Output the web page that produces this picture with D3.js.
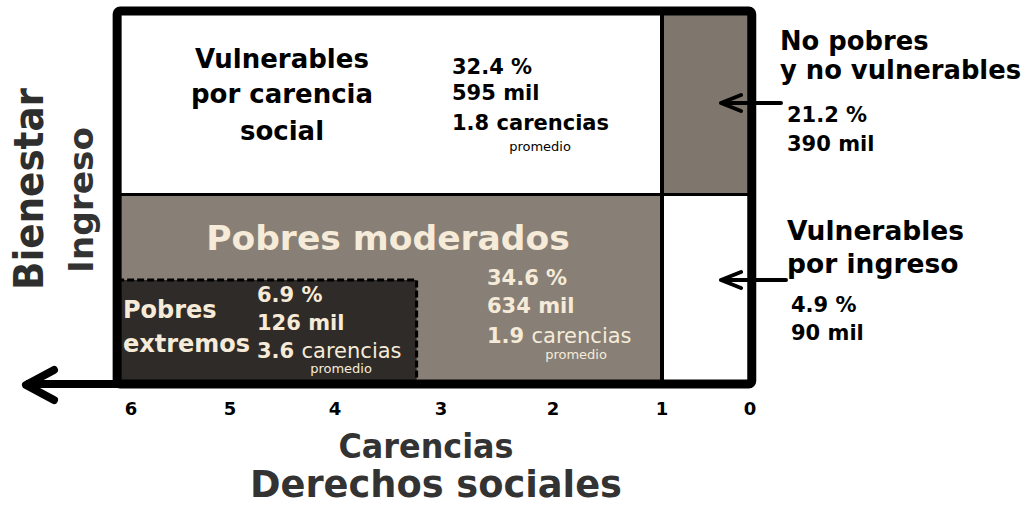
<!DOCTYPE html>
<html>
<head>
<meta charset="utf-8">
<script src="https://cdn.jsdelivr.net/npm/d3@7"></script>
<style>
  body { margin: 0; background: #fff; }
  svg { display: block; font-family: "DejaVu Sans", Verdana, sans-serif; }
</style>
</head>
<body>
<div class="chart"></div>
<script>
// Medición de pobreza
var grupos = ["Vulnerables por carencia social", "No pobres y no vulnerables", "Pobres moderados", "Vulnerables por ingreso", "Pobres extremos"];
var porcentajes = [32.4, 21.2, 34.6, 4.9, 6.9];
var miles = [595, 390, 634, 90, 126];
var carenciasProm = [1.8, null, 1.9, null, 3.6];
// limites de cada zona: carencias (x) y nivel de ingreso (y)
var carX0 = [1, -0.02, 1, -0.02, 3.23];
var carX1 = [6.14, 1, 6.14, 1, 6.14];
var ingY0 = [2, 2, 0, 0, 0];
var ingY1 = [3, 3, 2, 2, 1];
var colores = ["#ffffff", "#7f776e", "#888077", "#ffffff", "#2f2b28"];
var tickVals = [6, 5, 4, 3, 2, 1, 0];

var w = 1033, h = 506;
var crema = "#f6ebd8";

var svg = d3.select(".chart").append("svg")
    .attr("width", w)
    .attr("height", h);

// escalas (el eje de carencias va de derecha a izquierda)
var x = d3.scaleLinear()
    .domain([0, 1, 2, 3, 4, 5, 6])
    .range([750, 662, 553, 441, 335, 230, 131]);
var y = d3.scaleLinear()
    .domain([0, 1, 2, 3])   // base, linea bienestar minimo, linea bienestar, tope
    .range([384, 280, 194.5, 11]);

var zonas = grupos.map(function(g, i) {
    return {g: g, x0: carX0[i], x1: carX1[i], y0: ingY0[i], y1: ingY1[i], c: colores[i]};
});

svg.selectAll("rect.zona")
    .data(zonas)
    .enter()
    .append("rect")
    .attr("class", "zona")
    .attr("x", function(d) { return x(d.x1); })
    .attr("y", function(d) { return y(d.y1); })
    .attr("width", function(d) { return x(d.x0) - x(d.x1); })
    .attr("height", function(d) { return y(d.y0) - y(d.y1); })
    .attr("fill", function(d) { return d.c; });

// borde punteado pobres extremos
var ext = zonas[4];
svg.append("path")
    .attr("d", "M" + x(ext.x1) + "," + y(ext.y1) + "H" + x(ext.x0) + "V" + y(ext.y0))
    .attr("fill", "none")
    .attr("stroke", "#000")
    .attr("stroke-width", 3)
    .attr("stroke-dasharray", "7,3");

// divisiones
svg.append("line")
    .attr("x1", x(1)).attr("x2", x(1))
    .attr("y1", y(3)).attr("y2", y(0))
    .attr("stroke", "#000").attr("stroke-width", 4);
svg.append("line")
    .attr("x1", x(6.14)).attr("x2", x(-0.02))
    .attr("y1", y(2)).attr("y2", y(2))
    .attr("stroke", "#000").attr("stroke-width", 3);

// marco
svg.append("rect")
    .attr("x", x(6.14))
    .attr("y", y(3))
    .attr("width", x(-0.02) - x(6.14))
    .attr("height", y(0) - y(3))
    .attr("rx", 3)
    .attr("fill", "none")
    .attr("stroke", "#000")
    .attr("stroke-width", 9);

// flecha del eje de carencias
svg.append("line")
    .attr("x1", x(-0.02)).attr("x2", 26)
    .attr("y1", y(0)).attr("y2", y(0))
    .attr("stroke", "#000").attr("stroke-width", 8);
svg.append("path")
    .attr("d", "M54,370 L26,385 L54,400")
    .attr("fill", "none")
    .attr("stroke", "#000")
    .attr("stroke-width", 8)
    .attr("stroke-linecap", "round")
    .attr("stroke-linejoin", "round");

// etiquetas del eje
svg.selectAll("text.tick")
    .data(tickVals)
    .enter()
    .append("text")
    .attr("class", "tick")
    .attr("x", function(d) { return x(d); })
    .attr("y", 415)
    .attr("text-anchor", "middle")
    .attr("font-weight", "bold")
    .attr("font-size", 18)
    .text(function(d) { return d; });

svg.append("text")
    .attr("x", 426).attr("y", 458)
    .attr("text-anchor", "middle")
    .attr("font-family", "'Liberation Sans Narrow', 'DejaVu Sans Condensed', sans-serif")
    .attr("font-weight", "bold")
    .attr("font-size", 34)
    .attr("fill", "#333")
    .attr("textLength", 175)
    .attr("lengthAdjust", "spacingAndGlyphs")
    .text("Carencias");
svg.append("text")
    .attr("x", 436).attr("y", 497)
    .attr("text-anchor", "middle")
    .attr("font-family", "'Liberation Sans Narrow', 'DejaVu Sans Condensed', sans-serif")
    .attr("font-weight", "bold")
    .attr("font-size", 38)
    .attr("fill", "#333")
    .attr("textLength", 372)
    .attr("lengthAdjust", "spacingAndGlyphs")
    .text("Derechos sociales");

// eje de ingreso
svg.append("text")
    .attr("transform", "translate(43,189) rotate(-90)")
    .attr("text-anchor", "middle")
    .attr("font-weight", "bold")
    .attr("font-size", 40)
    .attr("fill", "#2e2e2e")
    .attr("textLength", 202)
    .attr("lengthAdjust", "spacingAndGlyphs")
    .text("Bienestar");
svg.append("text")
    .attr("transform", "translate(93,200) rotate(-90)")
    .attr("text-anchor", "middle")
    .attr("font-weight", "bold")
    .attr("font-size", 34)
    .attr("fill", "#333")
    .attr("textLength", 146)
    .attr("lengthAdjust", "spacingAndGlyphs")
    .text("Ingreso");

// helper para bloques de texto
function lineas(xp, ys, textos, size, color, anchor) {
    textos.forEach(function(t, i) {
        svg.append("text")
            .attr("x", xp).attr("y", ys[i])
            .attr("text-anchor", anchor || "start")
            .attr("font-weight", "bold")
            .attr("font-size", size)
            .attr("fill", color)
            .text(t);
    });
}
function carLinea(xp, yp, valor, color, bold) {
    var t = svg.append("text")
        .attr("x", xp).attr("y", yp)
        .attr("font-size", 21)
        .attr("fill", color);
    t.append("tspan").attr("font-weight", "bold").text(valor.toFixed(1) + " ");
    t.append("tspan").attr("font-weight", bold ? "bold" : "normal").text("carencias");
}
function promedio(xp, yp, color) {
    svg.append("text")
        .attr("x", xp).attr("y", yp)
        .attr("text-anchor", "middle")
        .attr("font-size", 13)
        .attr("fill", color)
        .text("promedio");
}
function pct(v) { return v.toFixed(1) + " %"; }

// Vulnerables por carencia social
lineas(282, [68, 103, 140], ["Vulnerables", "por carencia", "social"], 26, "#000", "middle");
lineas(452, [74, 100], [pct(porcentajes[0]), miles[0] + " mil"], 21, "#000");
carLinea(452, 130, carenciasProm[0], "#000", true);
promedio(540, 151, "#000");

// Pobres moderados
lineas(388, [250], ["Pobres moderados"], 34.5, crema, "middle");
lineas(487, [285, 313], [pct(porcentajes[2]), miles[2] + " mil"], 21, crema);
carLinea(487, 343, carenciasProm[2], crema, false);
promedio(576, 359, crema);

// Pobres extremos
lineas(123, [318, 352], ["Pobres", "extremos"], 24, crema);
lineas(257, [302, 330], [pct(porcentajes[4]), miles[4] + " mil"], 21, crema);
carLinea(257, 358, carenciasProm[4], crema, false);
promedio(341, 373, crema);

// No pobres y no vulnerables
lineas(780, [50, 79], ["No pobres", "y no vulnerables"], 25.8, "#000");
lineas(787, [122, 151], [pct(porcentajes[1]), miles[1] + " mil"], 21, "#000");

// Vulnerables por ingreso
lineas(787, [240, 273], ["Vulnerables", "por ingreso"], 26.5, "#000");
lineas(791, [312, 340], [pct(porcentajes[3]), miles[3] + " mil"], 21, "#000");

// flechas laterales
function flecha(x1, x2, yp) {
    svg.append("path")
        .attr("d", "M" + x1 + "," + yp + "H" + x2 + "M" + (x2 + 20) + "," + (yp - 8) + "L" + x2 + "," + yp + "L" + (x2 + 20) + "," + (yp + 8))
        .attr("fill", "none")
        .attr("stroke", "#000")
        .attr("stroke-width", 4)
        .attr("stroke-linejoin", "round")
        .attr("stroke-linecap", "round");
}
flecha(781, 721, 103);
flecha(786, 721, 280);
</script>
</body>
</html>
